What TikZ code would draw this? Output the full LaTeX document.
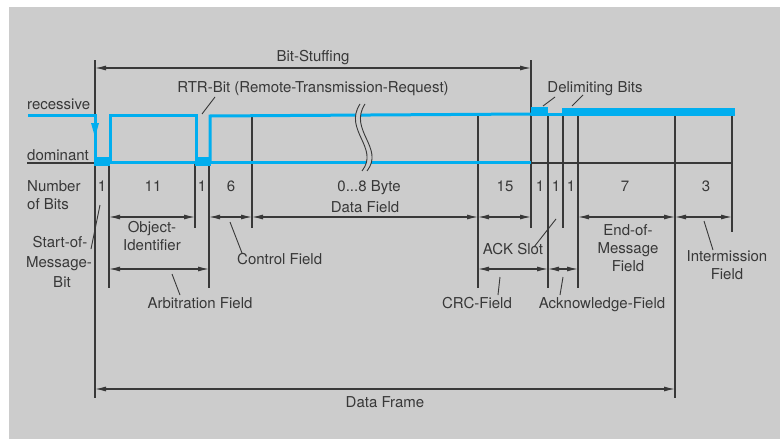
\documentclass[tikz,border=0pt]{standalone}
\usepackage{fontspec}
\setmainfont{TeX Gyre Heros}
\usetikzlibrary{arrows.meta}
\definecolor{bg}{HTML}{CCCCCC}
\definecolor{sig}{HTML}{00AEEF}
\definecolor{ink}{HTML}{383838}
\begin{document}
\begin{tikzpicture}[x=1pt,y=-1pt,
  font=\fontsize{15}{18}\selectfont, text=ink,
  bound/.style={draw=ink, line width=1.5pt},
  dim/.style={draw=ink, line width=1.1pt, {Latex[length=11pt,width=5pt]}-{Latex[length=11pt,width=5pt]}},
  lead/.style={draw=ink, line width=0.9pt},
  lbl/.style={inner sep=0pt, anchor=base},
  lblw/.style={inner sep=0pt, anchor=base west},
  sigline/.style={draw=sig, line width=3pt},
]
\useasboundingbox (0,0) rectangle (780,439);
\fill[bg] (9,7) rectangle (780,439);

% boundary coordinates
\coordinate (b0) at (95,0);
\coordinate (b1) at (109,0);
\coordinate (b2) at (195,0);
\coordinate (b3) at (209,0);
\coordinate (b4) at (252,0);
\coordinate (b5) at (478,0);
\coordinate (b6) at (531,0);
\coordinate (b7) at (548,0);
\coordinate (b8) at (563,0);
\coordinate (b9) at (578,0);
\coordinate (b10) at (675,0);
\coordinate (b11) at (732,0);
% row coordinates
\coordinate (rS) at (0,68);
\coordinate (rA) at (0,217);
\coordinate (rB) at (0,269);
\coordinate (rF) at (0,389);
\coordinate (top) at (0,60);
\coordinate (rec) at (0,115);
\coordinate (dom) at (0,163);
\coordinate (e1) at (0,228);
\coordinate (e2) at (0,288);
\coordinate (e3) at (0,398);

% boundary lines
\draw[bound] (b0 |- top) -- (b0 |- e3);
\draw[bound] (b1 |- dom) -- (b1 |- e2);
\draw[bound] (b2 |- dom) -- (b2 |- e1);
\draw[bound] (b3 |- dom) -- (b3 |- e2);
\draw[bound] (b4 |- rec) -- (b4 |- e1);
\draw[bound] (b5 |- rec) -- (b5 |- e2);
\draw[bound] (b6 |- top) -- (b6 |- e1);
\draw[bound] (b7 |- rec) -- (b7 |- e2);
\draw[bound] (b8 |- rec) -- (b8 |- e1);
\draw[bound] (b9 |- rec) -- (b9 |- e2);
\draw[bound] (b10 |- rec) -- (b10 |- e3);
\draw[bound] (b11 |- rec) -- (b11 |- 0,232);

% dominant level dark lines
\draw[bound] (27,163) -- (b0 |- dom);
\draw[bound] (b6 |- dom) -- (b11 |- dom);

% signal
\draw[sigline] (28,115) -- (95,115) -- (95,162);
\fill[sig] (91,123) -- (99,123) -- (95,137) -- cycle;
\draw[sigline] (95,162) -- (531,162);
\fill[sig] (94,157) rectangle (110,166);
\fill[sig] (195,157) rectangle (211,166);
\draw[sigline, line join=miter] (110,162) -- (110,115) -- (196,115) -- (196,162);
\draw[sigline, line join=miter] (210,162) -- (210,116) -- (531,114);
\fill[sig] (531,107) rectangle (548,116);
\draw[sigline] (548,114) -- (562,114);
\fill[sig] (562,108) rectangle (735,116);

% break mark
\fill[bg] (360,104) .. controls (343,130) and (380,148) .. (362,171) -- (367,171) .. controls (385,148) and (348,130) .. (365,104) -- cycle;
\draw[lead] (360,104) .. controls (343,130) and (380,148) .. (362,171);
\draw[lead] (365,104) .. controls (348,130) and (385,148) .. (367,171);

% dimension arrows
\draw[dim] (b0 |- rS) -- (b6 |- rS);
\draw[dim] (b1 |- rA) -- (b2 |- rA);
\draw[dim] (b3 |- rA) -- (b4 |- rA);
\draw[dim] (b4 |- rA) -- (b5 |- rA);
\draw[dim] (b5 |- rA) -- (b6 |- rA);
\draw[dim] (b9 |- rA) -- (b10 |- rA);
\draw[dim] (b10 |- rA) -- (b11 |- rA);
\draw[dim] (b1 |- rB) -- (b3 |- rB);
\draw[dim] (b5 |- rB) -- (b7 |- rB);
\draw[dim] (b7 |- rB) -- (b9 |- rB);
\draw[dim] (b0 |- rF) -- (b10 |- rF);

% leader lines
\draw[lead] (202,114) -- (215,97);
\draw[lead] (543,106) -- (555,97);
\draw[lead] (572,106) -- (583,95);
\draw[lead] (100,205) -- (91,249);
\draw[lead] (230,222) -- (242,253);
\draw[lead] (172,274) -- (180,295);
\draw[lead] (500,277) -- (498,295);
\draw[lead] (563,277) -- (560,295);
\draw[lead] (534,247) -- (556,219);
\draw[lead] (704,221) -- (713,250);

% texts
\node[lblw] (trec) at (27,109) {recessive};
\node[lblw] (tdom) at (27,160) {dominant};
\node[lblw] (tnum1) at (27,191) {Number};
\node[lblw] (tnum2) at (27,209) {of Bits};
\node[lbl] (tbs) at (313,61) {Bit-Stuffing};
\node[lbl] (trtr) at (313,92) {RTR-Bit (Remote-Transmission-Request)};
\node[lbl] (tdel) at (595,92) {Delimiting Bits};

\node[lbl] (n1) at (102,191) {1};
\node[lbl] (n2) at (153,191) {11};
\node[lbl] (n3) at (202,191) {1};
\node[lbl] (n4) at (231,191) {6};
\node[lbl] (n5) at (369,191) {0...8 Byte};
\node[lbl] (n6) at (505,191) {15};
\node[lbl] (n7) at (540,191) {1};
\node[lbl] (n8) at (556,191) {1};
\node[lbl] (n9) at (571,191) {1};
\node[lbl] (n10) at (625,191) {7};
\node[lbl] (n11) at (706,191) {3};

\node[lbl] (tdf) at (365,212) {Data Field};
\node[lbl] (toi1) at (152,232) {Object-};
\node[lbl] (toi2) at (152,250) {Identifier};
\node[lbl] (tsm1) at (60,247) {Start-of-};
\node[lbl] (tsm2) at (59,267) {Message-};
\node[lbl] (tsm3) at (62,287) {Bit};
\node[lblw] (tcf) at (237,264) {Control Field};
\node[lbl] (taf) at (200,308) {Arbitration Field};
\node[lbl] (tack) at (513,254) {ACK Slot};
\node[lbl] (teom1) at (628,235) {End-of-};
\node[lbl] (teom2) at (628,253) {Message};
\node[lbl] (teom3) at (628,271) {Field};
\node[lbl] (tim1) at (727,261) {Intermission};
\node[lbl] (tim2) at (727,279) {Field};
\node[lbl] (tcrc) at (477,308) {CRC-Field};
\node[lbl] (tak) at (602,308) {Acknowledge-Field};
\node[lbl] (tdfr) at (385,407) {Data Frame};
\end{tikzpicture}
\end{document}
